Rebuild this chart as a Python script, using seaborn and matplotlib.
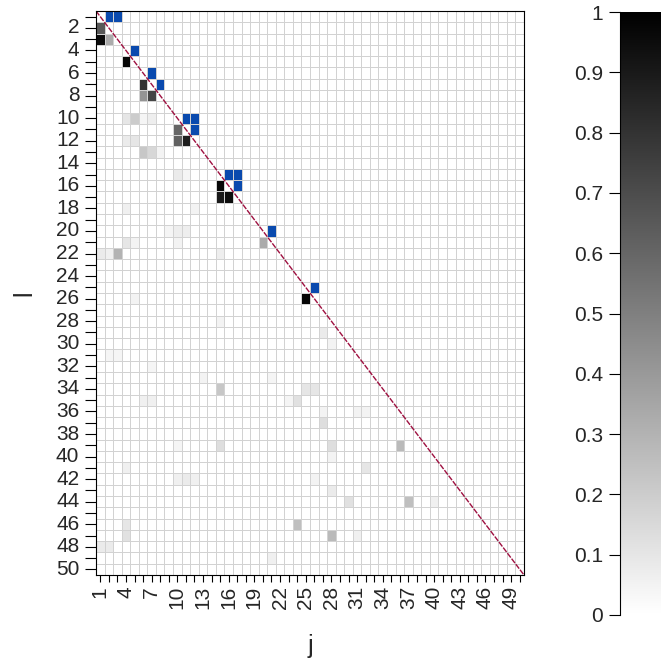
import numpy as np
import pandas as pd
import matplotlib
matplotlib.use("Agg")
import matplotlib.pyplot as plt
from matplotlib.colors import ListedColormap
import seaborn as sns

sns.set_style("white")
plt.rcParams['font.family'] = ['Liberation Sans', 'DejaVu Sans']

N = 50
# estimated probabilities (lower triangle): row l, column j, value
prob_rows = [2, 3, 3, 5, 7, 8, 8, 10, 10, 10, 10, 11, 12, 12, 12, 12, 13, 13, 13,
             15, 15, 16, 17, 17, 18, 18, 20, 20, 20, 21, 21, 21, 21, 22, 22, 22, 22,
             26, 26, 26, 28, 29, 30, 31, 31, 32, 33, 33, 34, 34, 34, 35, 35, 35, 35,
             36, 36, 36, 37, 39, 39, 39, 39, 40, 41, 41, 42, 42, 42, 42, 43, 44, 44, 44,
             46, 46, 47, 47, 47, 48, 48, 49]
prob_cols = [1, 1, 2, 4, 6, 6, 7, 4, 5, 6, 7, 10, 4, 5, 10, 11, 6, 7, 8,
             10, 11, 15, 15, 16, 4, 12, 9, 10, 11, 4, 5, 10, 20, 1, 2, 3, 15,
             5, 20, 25, 15, 27, 28, 2, 3, 7, 13, 21, 15, 25, 26, 6, 7, 24, 23,
             27, 31, 32, 27, 10, 15, 28, 36, 28, 4, 32, 10, 11, 12, 26, 28, 30, 37, 40,
             4, 24, 4, 28, 31, 1, 2, 21]
prob_vals = [0.65, 0.95, 0.33, 0.97, 0.80, 0.42, 0.73, 0.10, 0.20, 0.04, 0.07, 0.60,
             0.08, 0.10, 0.62, 0.88, 0.22, 0.16, 0.05,
             0.08, 0.04, 0.97, 0.90, 0.95, 0.06, 0.05, 0.04, 0.07, 0.07, 0.10, 0.05,
             0.05, 0.33, 0.08, 0.06, 0.30, 0.07,
             0.05, 0.04, 0.98, 0.05, 0.08, 0.05, 0.04, 0.04, 0.04, 0.05, 0.04, 0.22,
             0.10, 0.10, 0.06, 0.06, 0.12, 0.04,
             0.05, 0.05, 0.05, 0.13, 0.04, 0.13, 0.13, 0.27, 0.05, 0.06, 0.10, 0.06,
             0.08, 0.06, 0.05, 0.08, 0.12, 0.25, 0.06,
             0.10, 0.25, 0.12, 0.27, 0.06, 0.08, 0.08, 0.06]

# true structure (upper triangle, blue)
true_rows = [1, 1, 4, 6, 7, 10, 10, 11, 15, 15, 16, 20, 25]
true_cols = [2, 3, 5, 7, 8, 11, 12, 12, 16, 17, 17, 21, 26]

labels = [str(k) for k in range(1, N + 1)]
M = np.zeros((N, N))
for r, c, v in zip(prob_rows, prob_cols, prob_vals):
    M[r - 1, c - 1] = v
B = np.zeros((N, N))
for r, c in zip(true_rows, true_cols):
    B[r - 1, c - 1] = 1
dfM = pd.DataFrame(M, index=labels, columns=labels)
dfB = pd.DataFrame(B, index=labels, columns=labels)

fig = plt.figure(figsize=(6.61, 6.62), dpi=100)
ax = fig.add_axes([96 / 661, 1 - 575 / 662, 428 / 661, 564 / 662])
cax = fig.add_axes([620 / 661, 1 - 615 / 662, 50 / 661, 603 / 662])

grid = "#d2d2d2"
sns.heatmap(dfM, ax=ax, cmap="gray_r", vmin=0, vmax=1, cbar_ax=cax,
            linewidths=0.45, linecolor=grid)
sns.heatmap(dfB, ax=ax, mask=(B == 0), cmap=ListedColormap(["#0a4aae"]),
            vmin=0, vmax=1, cbar=False, linewidths=0.45, linecolor=grid)

ax.plot([0, N], [0, N], color="#9e1040", lw=1.0, linestyle=(0, (4, 1)))

ax.set_xticks(np.arange(N) + 0.5)
ax.set_xticklabels([lab if (k % 3 == 0) else "" for k, lab in enumerate(labels)],
                   rotation=90, fontsize=15)
ax.set_yticks(np.arange(N) + 0.5)
ax.set_yticklabels([lab if (k % 2 == 1) else "" for k, lab in enumerate(labels)],
                   rotation=0, fontsize=15)
ax.tick_params(axis='x', length=5, width=0.8, color='black', pad=3, bottom=True)
ax.tick_params(axis='y', length=8, width=0.8, color='black', pad=4, left=True)
for s in ax.spines.values():
    s.set_visible(True)
    s.set_color('black')
    s.set_linewidth(0.8)
ax.set_xlabel("j", fontsize=18, labelpad=18)
ax.set_ylabel("l", fontsize=18, labelpad=14)

cax.yaxis.set_ticks_position('left')
cax.set_yticks(np.linspace(0, 1, 11))
cax.set_yticklabels(["0", "0.1", "0.2", "0.3", "0.4", "0.5", "0.6", "0.7", "0.8", "0.9", "1"],
                    fontsize=15)
cax.tick_params(axis='y', length=8, width=0.8, color='black', pad=4, left=True, right=False)
cax.spines['left'].set_visible(True)
cax.spines['left'].set_color('black')
cax.spines['left'].set_linewidth(0.8)

fig.savefig("out.png", dpi=100)
